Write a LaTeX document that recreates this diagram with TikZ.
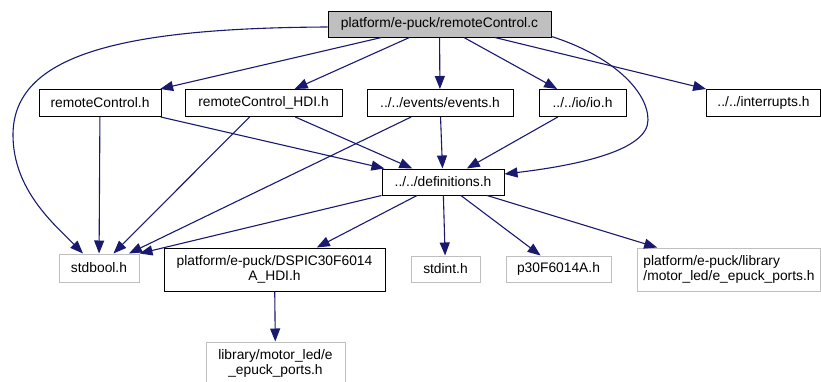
\documentclass[tikz,border=0pt]{standalone}
\usepackage{fontspec}
\setmainfont{Liberation Sans}
\usepackage{xcolor}
\usepackage{tikz}
\usetikzlibrary{arrows.meta}
\definecolor{edgeblue}{RGB}{25, 25, 112}
\definecolor{leafgray}{RGB}{191, 191, 191}
\tikzstyle{header} = [
    rectangle,
    draw=black,
    line width=1pt,
    inner sep=0pt,
    minimum height=27pt,
    align=center,
    font=\fontsize{13.8}{15}\selectfont
]
\tikzstyle{leaf} = [
    header,
    draw=leafgray
]
\tikzstyle{source} = [
    header,
    fill=leafgray
]
\tikzstyle{includearrow} = [
    line width=1.1pt,
    -{Triangle[length=13pt, width=10pt]},
    color=edgeblue
]

\begin{document}
\begin{tikzpicture}[x=1pt, y=-1pt]
        \useasboundingbox (0, 0) rectangle (821, 381);

        % Source file
        \node[source, minimum width=223pt, minimum height=26pt] (rcc) at (439.5, 24) {platform/e-puck/remoteControl.c};

        % Direct includes
        \node[header, minimum width=122pt] (rch) at (100, 103) {remoteControl.h};
        \node[header, minimum width=157pt] (rchdi) at (263.5, 103) {remoteControl\_HDI.h};
        \node[header, minimum width=146pt] (events) at (440, 103) {../../events/events.h};
        \node[header, minimum width=87pt] (io) at (582.5, 103) {../../io/io.h};
        \node[header, minimum width=114pt] (irq) at (763.5, 103) {../../interrupts.h};

        % Shared definitions
        \node[header, minimum width=122pt, minimum height=26pt] (defs) at (443, 182) {../../definitions.h};

        % Lower level headers
        \node[leaf, minimum width=80pt, minimum height=28pt] (stdbool) at (99, 268) {stdbool.h};
        \node[header, minimum width=221pt, minimum height=43pt] (dspic) at (274.5, 269.5) {platform/e-puck/DSPIC30F6014\\A\_HDI.h};
        \node[leaf, minimum width=69pt, minimum height=26pt] (stdint) at (445.5, 269) {stdint.h};
        \node[leaf, minimum width=105pt, minimum height=26pt] (p30) at (558.5, 269) {p30F6014A.h};
        \node[leaf, minimum width=183pt, minimum height=43pt, align=left] (ports) at (729, 269.5) {platform/e-puck/library\\/motor\_led/e\_epuck\_ports.h};
        \node[leaf, minimum width=139pt, minimum height=43pt] (libports) at (275.5, 363.5) {library/motor\_led/e\\\_epuck\_ports.h};

        % Connections from the source file
        \draw[includearrow] ([yshift=-3pt]rcc.west) .. controls (120, 28) and (13, 55) .. (13, 135)
            .. controls (13, 190) and (55, 225) .. ([xshift=-16pt]stdbool.north);
        \draw[includearrow] (rcc) -- (rch);
        \draw[includearrow] (rcc) -- (rchdi);
        \draw[includearrow] (rcc) -- (events);
        \draw[includearrow] (rcc) -- (io);
        \draw[includearrow] (rcc) -- (irq);
        \draw[includearrow] ([yshift=1pt]rcc.south east) .. controls (610, 55) and (648, 90) .. (648, 120)
            .. controls (648, 150) and (580, 165) .. ([yshift=8pt]defs.east);

        % Connections from the direct includes
        \draw[includearrow] (rch) -- (stdbool);
        \draw[includearrow] (rch) -- (defs);
        \draw[includearrow] (rchdi) -- (stdbool);
        \draw[includearrow] (rchdi) -- (defs);
        \draw[includearrow] (events) -- (stdbool);
        \draw[includearrow] (events) -- (defs);
        \draw[includearrow] (io) -- (defs);

        % Connections from the definitions
        \draw[includearrow] (defs.south west) -- (stdbool.north east);
        \draw[includearrow] (defs) -- (dspic);
        \draw[includearrow] (defs) -- (stdint);
        \draw[includearrow] (defs) -- (p30);
        \draw[includearrow] (defs) -- (ports);
        \draw[includearrow] (dspic) -- (libports);
    \end{tikzpicture}
\end{document}
